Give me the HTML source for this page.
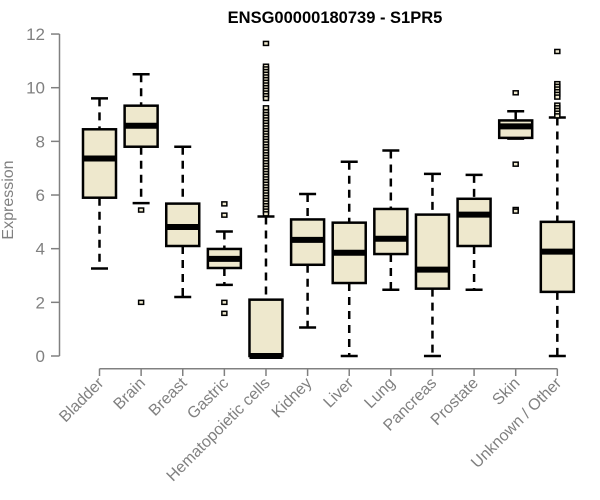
<!DOCTYPE html>
<html><head><meta charset="utf-8"><style>
html,body{margin:0;padding:0;background:#fff;}
svg{display:block;font-family:"Liberation Sans",Arial,sans-serif;}
</style></head><body>
<svg id="chart" width="600" height="500"></svg>
<script>
const categories=["Bladder","Brain","Breast","Gastric","Hematopoietic cells","Kidney","Liver","Lung","Pancreas","Prostate","Skin","Unknown / Other"];
const whiskerLow=[3.26,5.7,2.2,2.65,0,1.06,0,2.47,0,2.47,8.1,0];
const q1=[5.9,7.8,4.1,3.28,0,3.4,2.72,3.8,2.51,4.1,8.13,2.39];
const medians=[7.36,8.58,4.81,3.62,0,4.33,3.85,4.37,3.22,5.27,8.56,3.89];
const q3=[8.45,9.33,5.68,3.99,2.1,5.09,4.97,5.48,5.27,5.86,8.78,5.0];
const whiskerHigh=[9.6,10.5,7.8,4.64,5.2,6.04,7.24,7.66,6.79,6.75,9.12,8.89];
const outliers=[[],[5.44,2.0],[],[5.67,5.25,2.0,1.59],
[11.65,10.8,10.7,10.6,10.5,10.4,10.3,10.2,10.1,10.0,9.9,9.8,9.7,9.6,9.25,9.1,9.0,8.9,8.8,8.7,8.6,8.5,8.4,8.3,8.2,8.1,8.0,7.9,7.8,7.7,7.6,7.5,7.4,7.3,7.2,7.1,7.0,6.9,6.8,6.7,6.6,6.5,6.4,6.3,6.2,6.1,6.0,5.9,5.8,5.7,5.6,5.5,5.4,5.3],
[],[],[],[],[],[9.81,7.15,5.46,5.4],
[11.35,10.15,10.05,9.95,9.85,9.75,9.65,9.35,9.25,9.15,9.05,8.95]];
const yTicks=[0,2,4,6,8,10,12];
const NS="http://www.w3.org/2000/svg";
const svg=document.getElementById('chart');
const y=v=>356-v*26.83;
const x=i=>99.5+i*41.62;
function el(t,a,p){const e=document.createElementNS(NS,t);for(const k in a)e.setAttribute(k,a[k]);(p||svg).appendChild(e);return e;}
const title=el('text',{x:335,y:23,'text-anchor':'middle','font-size':16.5,'font-weight':'bold',fill:'#000'});
title.textContent="ENSG00000180739 - S1PR5";


const ya=el('line',{x1:59.5,x2:59.5,y1:y(0),y2:y(12),stroke:'#808080','stroke-width':1.5});


yTicks.forEach(t=>{
 const tk=el('line',{x1:51,x2:59.5,y1:y(t),y2:y(t),stroke:'#808080','stroke-width':1.5});
 
 
 const lb=el('text',{x:45,y:y(t)+6,'text-anchor':'end','font-size':17,fill:'#808080'});
 lb.textContent=t;
 
 
});
const yt=el('text',{x:13,y:200,'text-anchor':'middle','font-size':16,fill:'#808080',transform:'rotate(-90 13 200)'});
yt.textContent="Expression";


const xa=el('line',{x1:x(0),x2:x(categories.length-1),y1:368.7,y2:368.7,stroke:'#808080','stroke-width':1.5});


categories.forEach((c,i)=>{
 const cx=x(i);
 const tk=el('line',{x1:cx,x2:cx,y1:368.7,y2:376,stroke:'#808080','stroke-width':1.5});
 
 
 const lb=el('text',{x:cx+5,y:384,'text-anchor':'end','font-size':16,fill:'#808080',transform:`rotate(-45 ${cx+5} 384)`});
 lb.textContent=c;
 
 
 const g=el('g',{});
 
 
 el('line',{x1:cx,x2:cx,y1:y(whiskerHigh[i]),y2:y(q3[i]),stroke:'#000','stroke-width':2.5,'stroke-dasharray':'8,6'},g);
 el('line',{x1:cx,x2:cx,y1:y(q1[i]),y2:y(whiskerLow[i]),stroke:'#000','stroke-width':2.5,'stroke-dasharray':'8,6'},g);
 el('line',{x1:cx-8.5,x2:cx+8.5,y1:y(whiskerHigh[i]),y2:y(whiskerHigh[i]),stroke:'#000','stroke-width':2.5},g);
 el('line',{x1:cx-8.5,x2:cx+8.5,y1:y(whiskerLow[i]),y2:y(whiskerLow[i]),stroke:'#000','stroke-width':2.5},g);
 el('rect',{x:cx-16.5,y:y(q3[i]),width:33,height:Math.max(y(q1[i])-y(q3[i]),0.5),fill:'#EEE8CD',stroke:'#000','stroke-width':2.5},g);
 el('line',{x1:cx-16.5,x2:cx+16.5,y1:y(medians[i]),y2:y(medians[i]),stroke:'#000','stroke-width':6},g);
 outliers[i].forEach(v=>{
  const o=el('rect',{x:cx-2.5,y:y(v)-2,width:5,height:4,fill:'#EEE8CD',stroke:'#000','stroke-width':1.5},g);
  
  
 });
});
</script>
</body></html>
